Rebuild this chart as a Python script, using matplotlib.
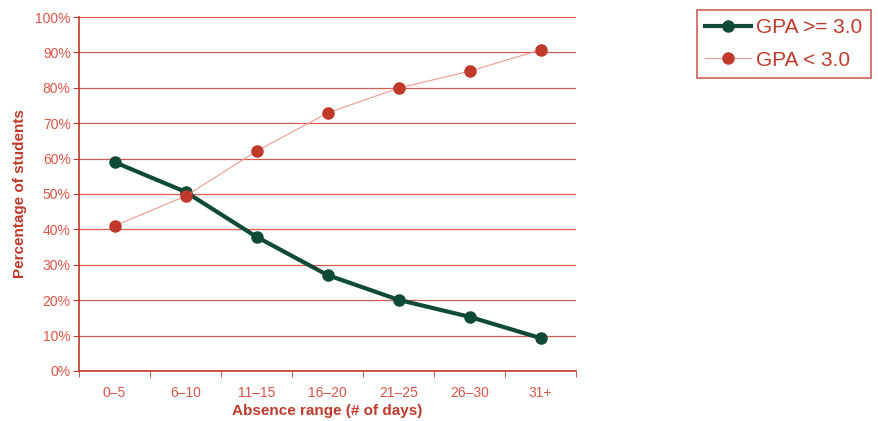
import matplotlib.pyplot as plt
import numpy as np
from matplotlib.ticker import FixedLocator, PercentFormatter

plt.rcParams['font.family'] = ['Liberation Sans', 'DejaVu Sans']

categories = ['0–5', '6–10', '11–15', '16–20', '21–25', '26–30', '31+']
gpa_high = [59.0, 50.6, 37.9, 27.1, 20.1, 15.3, 9.3]
gpa_low = [41.0, 49.4, 62.1, 72.9, 79.9, 84.7, 90.7]

red = '#c0392b'
light_red = '#d9544a'
green = '#0f4a36'

fig = plt.figure(figsize=(8.79, 4.21), dpi=100)
ax = fig.add_axes([0.0899, 0.1188, 0.5654, 0.8408])

x = np.arange(len(categories))
ax.plot(x, gpa_high, color=green, lw=3, marker='o', ms=8, label='GPA >= 3.0', zorder=3)
ax.plot(x, gpa_low, color='#ec9a90', lw=0.8, marker='o', ms=8,
        markerfacecolor=red, markeredgecolor=red, label='GPA < 3.0', zorder=3)

ax.set_xlim(-0.5, len(categories) - 0.5)
ax.set_ylim(0, 100)
ax.set_yticks(np.arange(0, 101, 10))
ax.yaxis.set_major_formatter(PercentFormatter(decimals=0))
ax.set_xticks(x)
ax.set_xticklabels(categories)
ax.xaxis.set_minor_locator(FixedLocator(np.arange(-0.5, len(categories), 1)))
ax.tick_params(axis='x', which='major', length=0, pad=11, labelsize=10, labelcolor=light_red)
ax.tick_params(axis='x', which='minor', length=4, color=red, direction='out')
ax.tick_params(axis='y', length=4, color=red, labelsize=10, labelcolor=light_red, pad=2)

ax.grid(axis='y', color='#d64a3e', lw=0.9, alpha=0.9)
ax.set_axisbelow(True)
for s in ['top', 'right']:
    ax.spines[s].set_visible(False)
for s in ['left', 'bottom']:
    ax.spines[s].set_color(red)
    ax.spines[s].set_linewidth(1.2)

ax.set_xlabel('Absence range (# of days)', color=red, fontsize=11, fontweight='bold', labelpad=3)
ax.set_ylabel('Percentage of students', color=red, fontsize=11, fontweight='bold', labelpad=6)

leg = fig.legend(loc='upper left', bbox_to_anchor=(0.793, 0.977),
                 prop={'family': 'Liberation Sans', 'size': 15},
                 frameon=True, fancybox=False, handlelength=2.2, handletextpad=0.25,
                 borderpad=0.4, labelspacing=0.65, borderaxespad=0)
leg.get_frame().set_edgecolor(red)
leg.get_frame().set_linewidth(1.2)
for t in leg.get_texts():
    t.set_color(red)

fig.savefig('out.png', dpi=100)
